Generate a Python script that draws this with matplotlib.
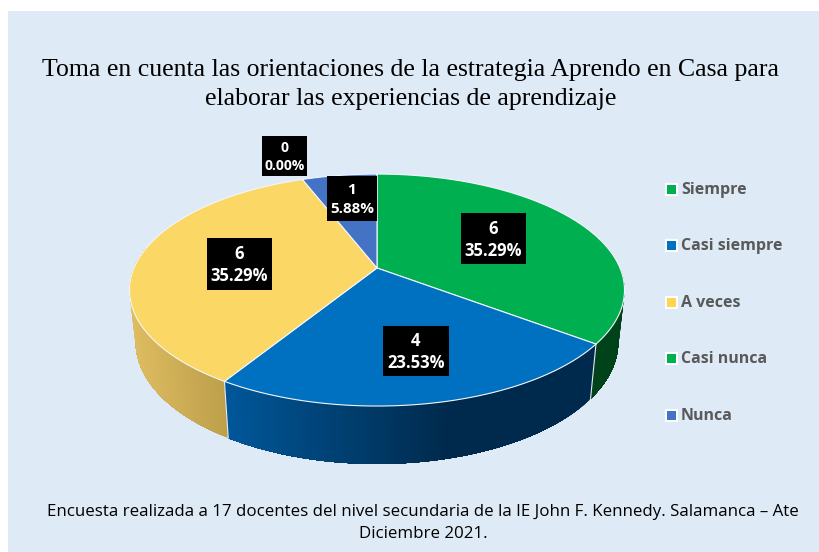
import numpy as np
import matplotlib
matplotlib.use("Agg")
import matplotlib.pyplot as plt
from matplotlib.patches import Polygon, Rectangle

categories = ["Siempre", "Casi siempre", "A veces", "Casi nunca", "Nunca"]
values = [6, 4, 6, 0, 1]
labels_pct = ["35.29%", "23.53%", "35.29%", "0.00%", "5.88%"]
top_colors = ["#00B050", "#0070C0", "#FBD766", "#00B050", "#4472C4"]
legend_colors = ["#00B050", "#0070C0", "#FFD44F", "#00B050", "#4472C4"]
# side colours at the left and right of each wall's gradient
side_left = [(0, .26, .10), (0, .34, .60), (.87, .74, .38), (0, .26, .10), (.2, .3, .5)]
side_right = [(0, .26, .10), (0, .165, .30), (.74, .62, .29), (0, .26, .10), (.2, .3, .5)]
grad_span = [(131, 228), (228, 450), (131, 228), (131, 228), (131, 228)]

title = "Toma en cuenta las orientaciones de la estrategia Aprendo en Casa para\nelaborar las experiencias de aprendizaje"
footer = "Encuesta realizada a 17 docentes del nivel secundaria de la IE John F. Kennedy. Salamanca – Ate\nDiciembre 2021."
label_box = [(461, 213, 65, 51), (383, 326, 66, 50), (207, 238, 65, 52), (262, 136, 45, 40), (327, 176, 50, 45)]
label_size = [12, 12, 12, 10, 11]
legend_y = [189, 245.5, 302, 358.5, 415.5]

BG = "#DEEAF6"
CX, CY, A, B, K = 377, 268, 243, 111.8, 0.19
SX, SY, LY = 0.975, 1.05, 319

def proj(theta, lower=False):
    u, v = np.sin(theta), np.cos(theta)
    w = 1 + K * v
    x, y = A * u / w, -B * v / w
    if lower:
        return CX + SX * x, LY + SY * y
    return CX + x, CY + y

fig = plt.figure(figsize=(8.2, 5.52), dpi=100, facecolor="white")
ax = fig.add_axes([0, 0, 1, 1])
ax.set_xlim(0, 820)
ax.set_ylim(552, 0)
ax.axis("off")
ax.add_patch(Rectangle((8, 11), 812, 541, fc=BG, ec="none", zorder=0))

total = sum(values)
edges = np.concatenate([[0], np.cumsum(values)]) / total * 2 * np.pi

# side walls: each strip runs to the far end of its slice, so later strips
# overpaint earlier ones and no seams show
for i in range(len(values)):
    a0, a1 = edges[i], edges[i + 1]
    lo = max(a0, np.pi / 2)
    hi = min(a1, 3 * np.pi / 2 + 0.2)
    if a1 <= a0 or hi <= lo:
        continue
    ts = np.linspace(lo, hi, max(2, int((hi - lo) * 90)))
    g0, g1 = grad_span[i]
    for t0 in ts[:-1]:
        sub = np.linspace(t0, hi, 40)
        xs, ys = proj(sub)
        xl, yl = proj(sub, True)
        p = list(zip(xs, ys)) + list(zip(xl[::-1], yl[::-1]))
        f = np.clip((proj(t0)[0] - g0) / (g1 - g0), 0, 1)
        col = tuple((1 - f) * np.array(side_left[i]) + f * np.array(side_right[i]))
        ax.add_patch(Polygon(p, fc=col, ec="none", zorder=1))

# seams between wall pieces
for e in [edges[1], edges[2]]:
    x0, y0 = proj(e)
    x1, y1 = proj(e, True)
    ax.plot([x0, x1], [y0, y1], color="#E4EAF0", lw=0.8, zorder=2)

# top face
for i in range(len(values)):
    a0, a1 = edges[i], edges[i + 1]
    if a1 <= a0:
        continue
    ts = np.linspace(a0, a1, 160)
    xs, ys = proj(ts)
    pts = [(CX, CY)] + list(zip(xs, ys))
    ax.add_patch(Polygon(pts, fc=top_colors[i], ec="#F4F7FA", lw=0.8, joinstyle="round", zorder=3))

# data labels
for v, pct, (x, y, w, h), fs in zip(values, labels_pct, label_box, label_size):
    ax.add_patch(Rectangle((x, y), w, h, fc="black", ec="none", zorder=4))
    ax.text(x + w / 2, y + h * 0.31, str(v), ha="center", va="center", color="white",
            fontsize=fs, fontweight="bold", family="Open Sans", zorder=5)
    ax.text(x + w / 2, y + h * 0.74, pct, ha="center", va="center", color="white",
            fontsize=fs, fontweight="bold", family="Open Sans", zorder=5)

# legend
for name, col, y in zip(categories, legend_colors, legend_y):
    ax.add_patch(Rectangle((665, y - 6.5), 13, 13, fc="white", ec="none", zorder=4))
    ax.add_patch(Rectangle((667, y - 4.5), 9, 9, fc=col, ec="none", zorder=5))
    ax.text(681, y + 0.8, name, ha="left", va="center", color="#595959", fontsize=11.5,
            fontweight="bold", family="Open Sans", zorder=5)

ax.text(410.5, 84.5, title, ha="center", va="center", color="black", fontsize=18.5,
        family="Liberation Serif", linespacing=1.45, zorder=5)
ax.text(423, 523, footer, ha="center", va="center", color="black", fontsize=12.13,
        family="Open Sans", linespacing=1.42, zorder=5)

fig.savefig("out.png", dpi=100, facecolor="white")
